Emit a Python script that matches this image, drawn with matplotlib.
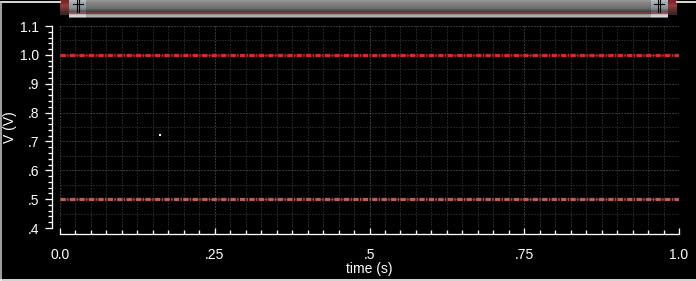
import numpy as np
import matplotlib
matplotlib.use('Agg')
import matplotlib.pyplot as plt

# data
time = [0.0, 1.0]
v_high = [1.0, 1.0]
v_low = [0.5, 0.5]
dot_t = [0.162]
dot_v = [0.724]

x_ticks = [0.0, 0.25, 0.5, 0.75, 1.0]
x_labels = ['0.0', '.25', '.5', '.75', '1.0']
y_ticks = [0.4, 0.5, 0.6, 0.7, 0.8, 0.9, 1.0, 1.1]
y_labels = ['.4', '.5', '.6', '.7', '.8', '.9', '1.0', '1.1']

plt.rcParams['font.family'] = ['Liberation Sans', 'DejaVu Sans']
plt.rcParams['lines.scale_dashes'] = False

W, H = 696, 281
fig = plt.figure(figsize=(W / 100, H / 100), dpi=100, facecolor='black')
px = 72 / 100.0  # one pixel in points

ax = fig.add_axes([60 / W, 53 / H, 619 / W, 202 / H], facecolor='black')
ax.set_xlim(0, 1)
ax.set_ylim(0.4, 1.1)

# dotted grid
for t in np.arange(0, 1.0001, 0.025):
    c = '#6a6a6a' if abs(t * 4 - round(t * 4)) < 1e-6 else '#444444'
    ax.axvline(t, color=c, lw=px, ls=(0, (px, 2 * px)), zorder=1)
for v in np.arange(0.4, 1.1001, 0.05):
    c = '#6a6a6a' if abs(v * 10 - round(v * 10)) < 1e-6 else '#444444'
    ax.axhline(v, color=c, lw=px, ls=(0, (px, 2 * px)), zorder=1)

dash = (0, (3.8, 1.1, 0.8, 1.1))
ax.plot(time, v_high, color='#c02028', lw=3.6, alpha=0.12, solid_capstyle='butt', zorder=2)
ax.plot(time, v_high, color='#d42a32', lw=2.2, ls=dash, dash_capstyle='butt', zorder=3)
ax.plot(time, v_low, color='#a84848', lw=3.6, alpha=0.10, solid_capstyle='butt', zorder=2)
ax.plot(time, v_low, color='#c05a5a', lw=2.2, ls=dash, dash_capstyle='butt', zorder=3)
ax.plot(dot_t, dot_v, ls='none', marker='s', ms=1.6, mew=0, color='white', zorder=4)

for s in ['top', 'right']:
    ax.spines[s].set_visible(False)
ax.spines['left'].set_position(('outward', 8 * px))
ax.spines['bottom'].set_position(('outward', 6 * px))
for s in ['left', 'bottom']:
    ax.spines[s].set_color('white')
    ax.spines[s].set_linewidth(1.3 * px)

ax.set_xticks(x_ticks)
ax.set_xticklabels(x_labels)
ax.set_xticks(np.arange(0, 1.0001, 0.025), minor=True)
ax.set_yticks(y_ticks)
ax.set_yticklabels(y_labels)
ax.set_yticks(np.arange(0.4, 1.1001, 0.02), minor=True)

ax.tick_params(axis='x', which='major', direction='in', length=6 * px, width=1.3 * px,
               color='white', labelcolor='white', labelsize=10, pad=10)
ax.tick_params(axis='x', which='minor', direction='in', length=4 * px, width=1.3 * px,
               color='white')
ax.tick_params(axis='y', which='major', direction='out', length=7 * px, width=1.3 * px,
               color='white', labelcolor='white', labelsize=10, pad=6 * px)
ax.tick_params(axis='y', which='minor', direction='out', length=4 * px, width=1.3 * px,
               color='white')

ax.set_xlabel('time (s)', color='white', fontsize=10, labelpad=0)
ax.set_ylabel('V (V)', color='white', fontsize=10, labelpad=2)

# window chrome: scrollbar at top and white frame lines
cx = fig.add_axes([0, 0, 1, 1], facecolor='none')
cx.set_xlim(0, W)
cx.set_ylim(H, 0)
cx.axis('off')

rows = [(150, 150, 150), (142, 142, 142), (136, 136, 136), (130, 130, 130), (126, 126, 126),
        (122, 122, 122), (118, 118, 118), (114, 114, 114), (106, 106, 106), (92, 92, 92),
        (76, 76, 76), (70, 62, 62), (125, 58, 58), (105, 68, 68), (150, 150, 150),
        (168, 168, 168), (176, 176, 176), (90, 90, 90)]
grad = np.array(rows, dtype=float)[:, None, :] / 255.0
cx.imshow(grad, extent=(69, 668, 18, 0), aspect='auto', interpolation='bilinear', zorder=1)
light = np.clip(grad * 1.2 + 0.05, 0, 1) * np.array([0.95, 0.97, 1.0])
cx.imshow(light, extent=(69, 86, 18, 0), aspect='auto', interpolation='bilinear', zorder=2)
cx.imshow(light, extent=(651, 668, 18, 0), aspect='auto', interpolation='bilinear', zorder=2)
red = np.array([[(120, 40, 45)], [(150, 60, 60)], [(110, 50, 50)], [(60, 40, 40)]], dtype=float) / 255.0
cx.imshow(red, extent=(60, 69, 15, 0), aspect='auto', interpolation='bilinear', zorder=2)
cx.imshow(red, extent=(668, 677, 15, 0), aspect='auto', interpolation='bilinear', zorder=2)
for xc in [78, 659]:
    cx.plot([xc - 1.2, xc - 1.2], [0, 12], color='black', lw=0.8, zorder=3)
    cx.plot([xc + 1.2, xc + 1.2], [0, 12], color='black', lw=0.8, zorder=3)
    cx.plot([xc - 5, xc + 5], [3.5, 3.5], color='black', lw=0.8, zorder=3)

cx.plot([0, 60], [2, 2], color='white', lw=1.2, zorder=3)
cx.plot([677, W], [2, 2], color='white', lw=1.2, zorder=3)
cx.plot([1, 1], [2, H], color='#c0c0c0', lw=1.2, zorder=3)
cx.plot([0, W], [279.5, 279.5], color='white', lw=1.2, zorder=3)

fig.savefig('out.png', dpi=100, facecolor='black')
